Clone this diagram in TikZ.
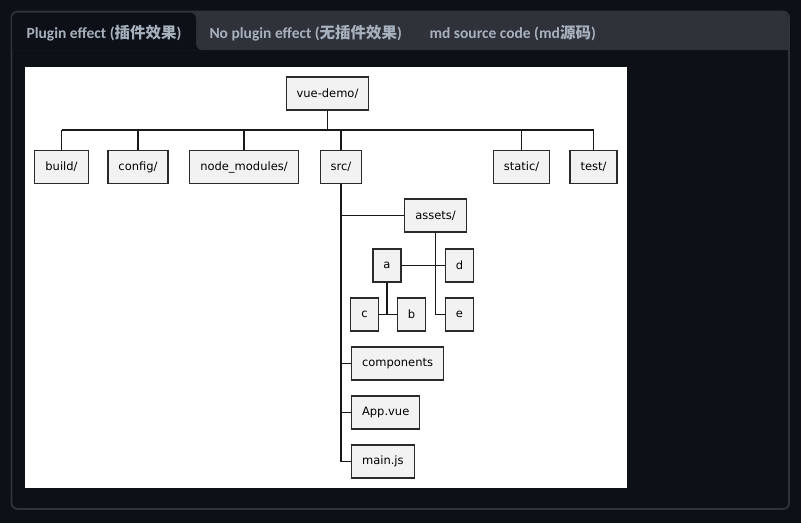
\documentclass[tikz,border=0pt]{standalone}
\usepackage{fontspec}
\usetikzlibrary{positioning,calc}
\newfontfamily\dejavu{DejaVu Sans}
\newfontfamily\tabfont{Carlito}
\newfontfamily\cjk{Noto Sans CJK SC}
\definecolor{pagebg}{HTML}{0D1017}
\definecolor{tabbar}{HTML}{30323A}
\definecolor{panelline}{HTML}{30333A}
\definecolor{tabtext}{HTML}{A7B1BE}
\definecolor{boxfill}{HTML}{F2F2F2}
\definecolor{boxline}{HTML}{2A2A2A}

\begin{document}
\begin{tikzpicture}[x=1pt,y=-1pt,
    dir/.style={draw=boxline, fill=boxfill, line width=1.1pt, font=\dejavu\fontsize{11.5}{13}\selectfont,
                minimum height=33pt, inner xsep=10.5pt, inner ysep=0pt},
    link/.style={line width=1.1pt, black!90},
    tablabel/.style={anchor=west, text=tabtext, font=\tabfont\bfseries\fontsize{15.5}{18}\selectfont}]
    \useasboundingbox (0,0) rectangle (801,523);
    \fill[pagebg] (0,0) rectangle (801,523);
    % panel and tabs
    \draw[panelline, line width=1.8pt, fill=pagebg, rounded corners=6pt] (11.5,11.5) rectangle (789,509);
    \fill[tabbar] (12,50) [rounded corners=6pt] -- (12,12) -- (788,12) [sharp corners] -- (788,50) -- cycle;
    \fill[pagebg] (12,50) [rounded corners=6pt] -- (12,12.5) -- (196,12.5) [sharp corners] -- (196,50) -- cycle;
    \fill[pagebg] (196,50) -- (202,50) arc[start angle=90, end angle=180, radius=6] -- cycle;
    \node[tablabel] (tab1) at (23,33) {Plugin effect ({\cjk 插件效果})};
    \node[tablabel] (tab2) at (206,33) {No plugin effect ({\cjk 无插件效果})};
    \node[tablabel] (tab3) at (426,33) {md source code (md{\cjk 源码})};
    \fill[white] (25,67) rectangle (627,488);

    % tree
    \node[dir] (root) at (327.5,93.5) {vue-demo/};
    \coordinate (bus) at (0,130);
    \node[dir] (build) at (61.5,167) {build/};
    \node[dir] (config) at (138,167) {config/};
    \node[dir] (nodemod) at (244,167) {node\_modules/};
    \node[dir] (src) at (341,167) {src/};
    \node[dir] (static) at (521.5,167) {static/};
    \node[dir] (test) at (593.5,167) {test/};
    \draw[link] (root.south) -- (root.south |- bus);
    \draw[link] (build.north |- bus) -- (test.north |- bus);
    \foreach \child in {build,config,nodemod,src,static,test}
        \draw[link] (\child.north) -- (\child.north |- bus);

    \node[dir] (assets) at (435.5,215.5) {assets/};
    \node[dir] (a) at (387,265.5) {a};
    \node[dir] (d) at (459.5,265.5) {d};
    \node[dir] (c) at (364.5,314.5) {c};
    \node[dir] (b) at (411.5,314.5) {b};
    \node[dir] (e) at (459.5,314.5) {e};
    \node[dir, anchor=west] (comp) at (351,363.5) {components};
    \node[dir, anchor=west] (app) at (351,412.5) {App.vue};
    \node[dir, anchor=west] (mainjs) at (351,461.5) {main.js};

    \draw[link] (src.south) -- (src.south |- mainjs.west) -- (mainjs.west);
    \foreach \child in {assets,comp,app}
        \draw[link] (src.south |- \child.west) -- (\child.west);
    \draw[link] (assets.south) -- (assets.south |- e.west) -- (e.west);
    \draw[link] (a.east) -- (d.west);
    \draw[link] (a.south) -- (a.south |- c.east);
    \draw[link] (c.east) -- (b.west);
\end{tikzpicture}
\end{document}
